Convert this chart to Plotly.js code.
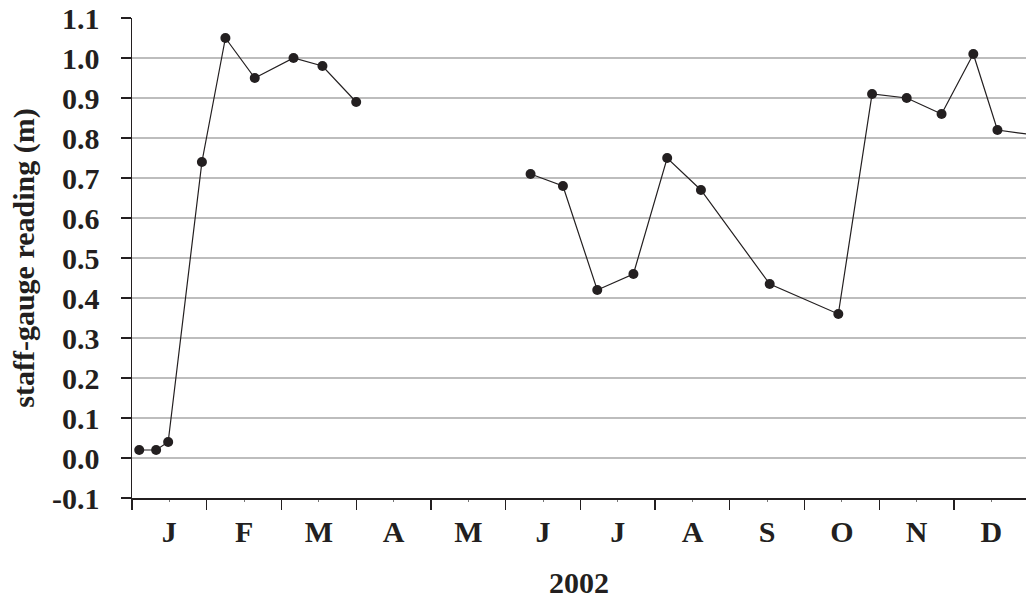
<!DOCTYPE html>
<html>
<head>
<meta charset="utf-8">
<script src="https://cdn.plot.ly/plotly-3.0.1.min.js"></script>
<style>
  html, body { margin: 0; padding: 0; overflow: hidden; background: #fff; }
  #chart { width: 1026px; height: 599px; }
</style>
</head>
<body>
<div id="chart"></div>
<script>
// Sampling dates (2002) and staff-gauge readings (m); null = no reading (gap)
const sampleDates = [
  "2002-01-04", "2002-01-11", "2002-01-16", "2002-01-30",
  "2002-02-08", "2002-02-19", "2002-03-06", "2002-03-18", "2002-04-01",
  "2002-05-01",
  "2002-06-11", "2002-06-24", "2002-07-08", "2002-07-23",
  "2002-08-06", "2002-08-20", "2002-09-17", "2002-10-15",
  "2002-10-29", "2002-11-12", "2002-11-26", "2002-12-09",
  "2002-12-19", "2002-12-31"
];
const gaugeReading = [
  0.02, 0.02, 0.04, 0.74,
  1.05, 0.95, 1.00, 0.98, 0.89,
  null,
  0.71, 0.68, 0.42, 0.46,
  0.75, 0.67, 0.435, 0.36,
  0.91, 0.90, 0.86, 1.01,
  0.82, 0.81
];
const monthLabels = ["J", "F", "M", "A", "M", "J", "J", "A", "S", "O", "N", "D"];
const yTickValues = [-0.1, 0.0, 0.1, 0.2, 0.3, 0.4, 0.5, 0.6, 0.7, 0.8, 0.9, 1.0, 1.1];
const xAxisTitle = "2002";
const yAxisTitle = "staff-gauge reading (m)";

// Months are drawn with equal widths: position = month index + fraction of month
function monthPosition(dateStr) {
  const [y, m, d] = dateStr.split("-").map(Number);
  const days = new Date(y, m, 0).getDate();
  return (m - 1) + (d - 1) / days;
}
const xPos = sampleDates.map(monthPosition);
const labelPos = monthLabels.map((_, i) => i + 0.5);
const boundaryPos = monthLabels.map((_, i) => i).concat([monthLabels.length]);
const yTickText = yTickValues.map(v => v.toFixed(1));

const textColor = "#231f20";
const fontFamily = "Liberation Serif, Times New Roman, serif";
const fs = 30;

const trace = {
  x: xPos,
  y: gaugeReading,
  mode: "lines+markers",
  connectgaps: false,
  line: { color: "#231f20", width: 1.2 },
  marker: { color: "#231f20", size: 10 },
  cliponaxis: false,
  hoverinfo: "skip"
};

const layout = {
  width: 1026,
  height: 599,
  margin: { l: 132, r: 0, t: 18, b: 101 },
  paper_bgcolor: "#ffffff",
  plot_bgcolor: "#ffffff",
  showlegend: false,
  font: { family: fontFamily, color: textColor, size: fs, weight: "bold" },
  xaxis: {
    range: [0, 11.963],
    tickmode: "array",
    tickvals: labelPos,
    ticktext: monthLabels,
    ticks: "outside",
    ticklen: 2,
    tickwidth: 1,
    tickcolor: "#777",
    ticklabelstandoff: 4,
    tickfont: { family: fontFamily, size: fs, color: textColor, weight: "bold" },
    showgrid: false,
    zeroline: false,
    showline: true,
    linecolor: "#231f20",
    linewidth: 1.5,
    minor: {
      tickmode: "array",
      tickvals: boundaryPos,
      ticks: "outside",
      ticklen: 10,
      tickwidth: 1.3,
      tickcolor: "#231f20",
      showgrid: false
    },
    title: {
      text: xAxisTitle,
      font: { family: fontFamily, size: fs, color: textColor, weight: "bold" },
      standoff: 28
    },
    fixedrange: true
  },
  yaxis: {
    range: [-0.1, 1.1],
    tickmode: "array",
    tickvals: yTickValues,
    ticktext: yTickText,
    ticks: "outside",
    ticklen: 10,
    tickwidth: 1.3,
    tickcolor: "#231f20",
    ticklabelstandoff: 15,
    tickfont: { family: fontFamily, size: fs, color: textColor, weight: "bold" },
    showgrid: true,
    gridcolor: "#bdbdbd",
    gridwidth: 1.3,
    zeroline: false,
    showline: true,
    linecolor: "#231f20",
    linewidth: 1.5,
    title: {
      text: yAxisTitle,
      font: { family: fontFamily, size: fs, color: textColor, weight: "bold" },
      standoff: 8
    },
    fixedrange: true
  }
};

Plotly.newPlot("chart", [trace], layout, { displayModeBar: false, staticPlot: true });
</script>
</body>
</html>
